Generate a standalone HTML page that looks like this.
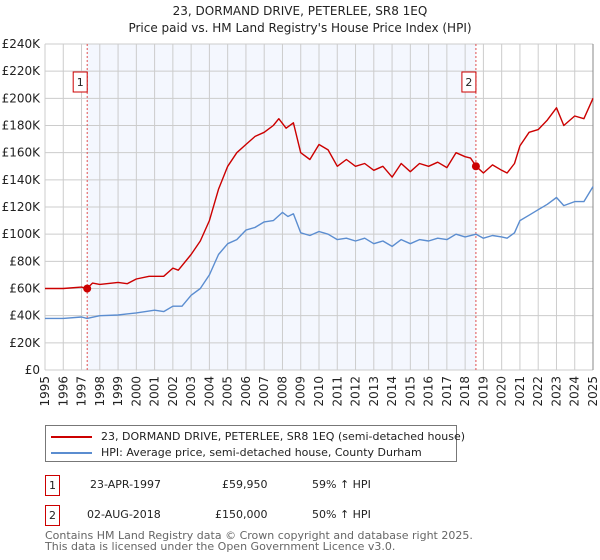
<!DOCTYPE html>
<html><head><meta charset="utf-8"><style>
body{margin:0;background:#fff;width:600px;height:560px;overflow:hidden;font-family:"DejaVu Sans","Liberation Sans",sans-serif;}
svg{position:absolute;left:0;top:0}
</style></head><body>
<svg id="c" width="600" height="560" font-family="DejaVu Sans, Liberation Sans, sans-serif"></svg>
<script>
const hpiYears=[1995,1996,1997,1997.3,1998,1999,2000,2000.5,2001,2001.5,2002,2002.5,2003,2003.5,2004,2004.5,2005,2005.5,2006,2006.5,2007,2007.5,2008,2008.3,2008.6,2009,2009.5,2010,2010.5,2011,2011.5,2012,2012.5,2013,2013.5,2014,2014.5,2015,2015.5,2016,2016.5,2017,2017.5,2018,2018.6,2019,2019.5,2020,2020.3,2020.7,2021,2021.5,2022,2022.5,2023,2023.4,2024,2024.5,2025];
const hpiValues=[38,38,39,38,40,40.5,42,43,44,43,47,47,55,60,70,85,93,96,103,105,109,110,116,113,115,101,99,102,100,96,97,95,97,93,95,91,96,93,96,95,97,96,100,98,100,97,99,98,97,101,110,114,118,122,127,121,124,124,135];
const propYears=[1995,1996,1997,1997.3,1997.6,1998,1999,1999.5,2000,2000.7,2001,2001.5,2002,2002.3,2003,2003.5,2004,2004.5,2005,2005.5,2006,2006.5,2007,2007.5,2007.8,2008.2,2008.6,2009,2009.5,2010,2010.5,2011,2011.5,2012,2012.5,2013,2013.5,2014,2014.5,2015,2015.5,2016,2016.5,2017,2017.5,2018,2018.3,2018.6,2019,2019.5,2020,2020.3,2020.7,2021,2021.5,2022,2022.5,2023,2023.4,2024,2024.5,2025];
const propValues=[60,60,61,60,64,63,64.5,63.5,67,69,69,69,75,73.5,85,95,110,133,150,160,166,172,175,180,185,178,182,160,155,166,162,150,155,150,152,147,150,142,152,146,152,150,153,149,160,157,156,150,145,151,147,145,152,165,175,177,184,193,180,187,185,200];
const saleYears=[1997.31,2018.59];
const saleValues=[59.95,150];
const saleLabels=["1","2"];
const yTicks=[0,20,40,60,80,100,120,140,160,180,200,220,240];
const yTickLabels=["£0","£20K","£40K","£60K","£80K","£100K","£120K","£140K","£160K","£180K","£200K","£220K","£240K"];
const xTicks=[1995,1996,1997,1998,1999,2000,2001,2002,2003,2004,2005,2006,2007,2008,2009,2010,2011,2012,2013,2014,2015,2016,2017,2018,2019,2020,2021,2022,2023,2024,2025];

const L=45,R=593,T=44,B=370;
const xs=y=>L+(y-1995)/30*(R-L);
const ys=v=>B-v/240*(B-T);
const svg=document.getElementById('c');
const NS='http://www.w3.org/2000/svg';
function mk(t,a,p){const e=document.createElementNS(NS,t);for(const k in a)e.setAttribute(k,a[k]);(p||svg).appendChild(e);return e;}

let r=mk('rect',{x:xs(saleYears[0]),y:T,width:xs(saleYears[1])-xs(saleYears[0]),height:B-T,fill:'#f4f7fe'});


xTicks.forEach(t=>{const l=mk('line',{x1:xs(t),x2:xs(t),y1:T,y2:B,stroke:'#cccccc','stroke-width':1});


const tx=mk('text',{x:0,y:0,'font-size':12,fill:'#222','text-anchor':'end',transform:`translate(${xs(t)+4},${B+6}) rotate(-90)`});
tx.textContent=t;

});
yTicks.forEach((t,i)=>{const l=mk('line',{x1:L,x2:R,y1:ys(t),y2:ys(t),stroke:'#cccccc','stroke-width':1});


const tx=mk('text',{x:L-5,y:ys(t)+4,'font-size':12,fill:'#222','text-anchor':'end'});
tx.textContent=yTickLabels[i];

});
let ax=mk('line',{x1:R,x2:R,y1:T,y2:B,stroke:'#888','stroke-width':1});



saleYears.forEach((y,i)=>{const l=mk('line',{x1:xs(y),x2:xs(y),y1:T,y2:B,stroke:'#e05050','stroke-width':1,'stroke-dasharray':'2,2'});


const g=mk('g',{});


mk('rect',{x:xs(y)-14,y:72,width:14,height:20,fill:'#fff',stroke:'#cc0000'},g);
const t=mk('text',{x:xs(y)-7,y:86,'font-size':11,'text-anchor':'middle',fill:'#222'},g);t.textContent=saleLabels[i];});

function path(xa,va,col,name){const d=xa.map((x,i)=>(i?'L':'M')+xs(x).toFixed(1)+','+ys(va[i]).toFixed(1)).join('');
const p=mk('path',{d,fill:'none',stroke:col,'stroke-width':1.4,'stroke-linejoin':'round'});

}
path(hpiYears,hpiValues,'#5b8dd0','hpi-line');
path(propYears,propValues,'#cc0000','property-price-line');
saleYears.forEach((y,i)=>{const c=mk('circle',{cx:xs(y),cy:ys(saleValues[i]),r:4,fill:'#cc0000'});

});
</script>
<div style="position:absolute;left:0;width:600px;top:3px;text-align:center;font-size:12px;line-height:17px;color:#222">23, DORMAND DRIVE, PETERLEE, SR8 1EQ<br>Price paid vs. HM Land Registry's House Price Index (HPI)</div>
<div style="position:absolute;left:45px;top:425px;width:410px;height:35px;border:1px solid #777;font-size:11px;color:#222">
<div style="position:absolute;left:5px;top:4px;white-space:nowrap"><span style="display:inline-block;width:41px;height:2px;background:#cc0000;vertical-align:middle;margin-right:9px"></span>23, DORMAND DRIVE, PETERLEE, SR8 1EQ (semi-detached house)</div>
<div style="position:absolute;left:5px;top:20px;white-space:nowrap"><span style="display:inline-block;width:41px;height:2px;background:#5b8dd0;vertical-align:middle;margin-right:9px"></span>HPI: Average price, semi-detached house, County Durham</div>
</div>
<div style="font-size:11px;color:#222">
<div style="position:absolute;left:45px;top:475px;width:13px;height:19px;border:1px solid #cc0000;text-align:center;line-height:19px">1</div>
<div style="position:absolute;left:90px;top:478px">23-APR-1997</div>
<div style="position:absolute;left:222px;top:478px">£59,950</div>
<div style="position:absolute;left:312px;top:478px">59% ↑ HPI</div>
<div style="position:absolute;left:45px;top:505px;width:13px;height:19px;border:1px solid #cc0000;text-align:center;line-height:19px">2</div>
<div style="position:absolute;left:87px;top:508px">02-AUG-2018</div>
<div style="position:absolute;left:215px;top:508px">£150,000</div>
<div style="position:absolute;left:312px;top:508px">50% ↑ HPI</div>
</div>
<div style="position:absolute;left:45px;top:530px;font-size:11px;line-height:11px;color:#666;white-space:nowrap">Contains HM Land Registry data © Crown copyright and database right 2025.<br>This data is licensed under the Open Government Licence v3.0.</div>
</body></html>
